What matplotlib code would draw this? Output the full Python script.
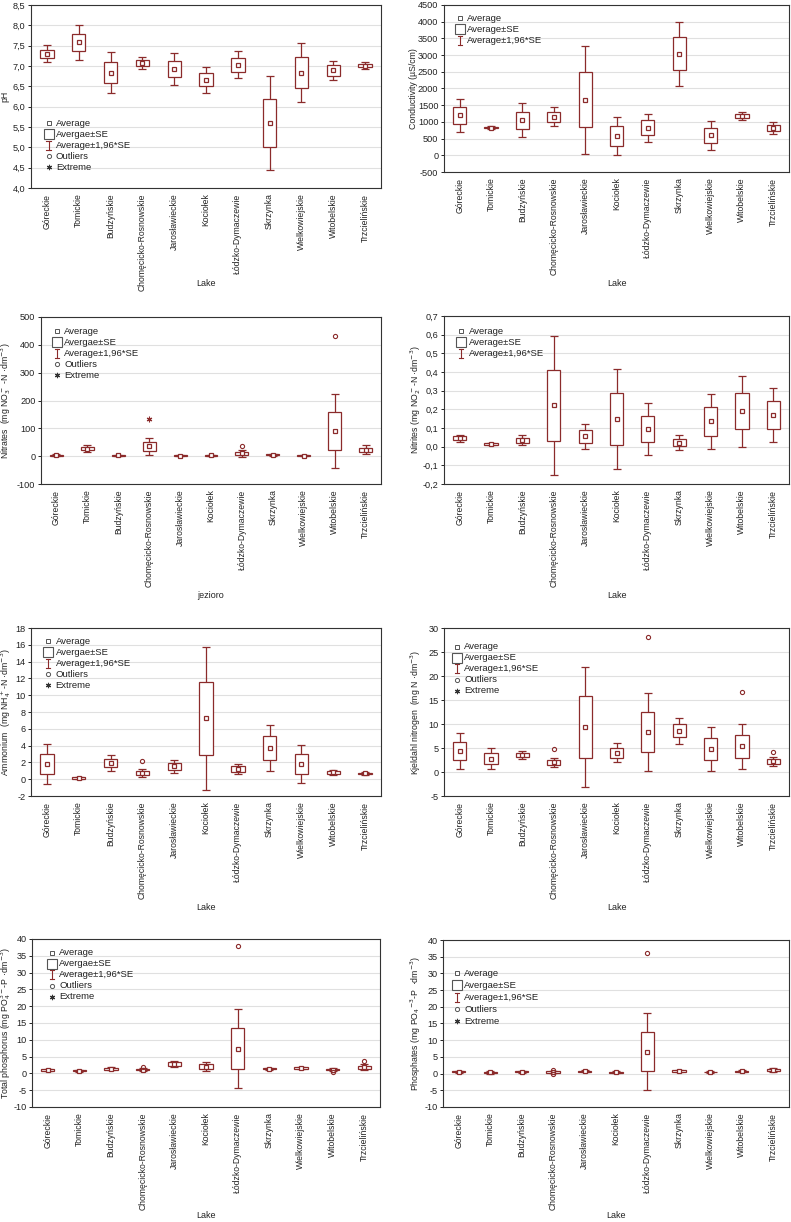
import numpy as np
import matplotlib
matplotlib.use('Agg')
import matplotlib.pyplot as plt
from matplotlib.ticker import MultipleLocator, FuncFormatter

plt.rcParams['font.family'] = ['Liberation Sans', 'DejaVu Sans']

### Data ###########################################

lakes = ['Góreckie', 'Tomickie', 'Budzyńskie', 'Chomęcicko-Rosnowskie',
         'Jarosławieckie', 'Kociołek', 'Łódzko-Dymaczewie', 'Skrzynka',
         'Wielkowiejskie', 'Witobelskie', 'Trzcielińskie']

ph_mean = [7.30, 7.58, 6.84, 7.07, 6.92, 6.66, 7.03, 5.60, 6.84, 6.89, 7.01]
ph_se = [0.105, 0.215, 0.255, 0.075, 0.20, 0.16, 0.17, 0.59, 0.37, 0.125, 0.04]

cond_mean = [1200, 830, 1050, 1160, 1660, 580, 830, 3040, 600, 1180, 820]
cond_se = [250, 20, 260, 150, 825, 290, 215, 490, 220, 60, 88]

nitrates_mean = [3, 27, 3, 35, 2, 3, 10, 5, 2, 89, 23]
nitrates_se = [2, 6, 1.5, 15, 1, 1.5, 6, 1.5, 1, 68, 8]
nitrates_out = [(6, 38), (9, 430)]
nitrates_ext = [(3, 135)]

nitrites_mean = [0.045, 0.014, 0.035, 0.222, 0.055, 0.148, 0.095, 0.022, 0.135, 0.190, 0.170]
nitrites_se = [0.010, 0.003, 0.014, 0.190, 0.035, 0.137, 0.070, 0.020, 0.076, 0.097, 0.074]

ammonium_mean = [1.8, 0.15, 1.9, 0.75, 1.55, 7.25, 1.2, 3.7, 1.8, 0.8, 0.7]
ammonium_se = [1.2, 0.08, 0.5, 0.25, 0.4, 4.35, 0.32, 1.4, 1.15, 0.18, 0.08]
ammonium_out = [(3, 2.2)]

kjeldahl_mean = [4.3, 2.8, 3.5, 2.0, 9.4, 4.0, 8.4, 8.6, 4.8, 5.4, 2.2]
kjeldahl_se = [1.9, 1.15, 0.42, 0.5, 6.4, 1.0, 4.15, 1.4, 2.35, 2.4, 0.45]
kjeldahl_out = [(3, 4.7), (6, 28.2), (9, 16.6), (10, 4.2)]

tp_mean = [1.0, 0.85, 1.4, 1.1, 2.8, 2.0, 7.4, 1.35, 1.6, 1.1, 1.8]
tp_se = [0.2, 0.15, 0.25, 0.2, 0.5, 0.65, 6.0, 0.15, 0.2, 0.2, 0.45]
tp_out = [(3, 1.8), (6, 37.8), (9, 0.5), (10, 3.6)]

phos_mean = [0.6, 0.35, 0.55, 0.45, 0.65, 0.45, 6.6, 0.75, 0.5, 0.65, 1.1]
phos_se = [0.15, 0.25, 0.15, 0.2, 0.15, 0.15, 5.9, 0.2, 0.1, 0.15, 0.3]
phos_out = [(3, 1.0), (3, -0.1), (6, 36.2)]

### Style ##########################################

RED = '#8b2b2b'
GREY = '#555555'
GRID = '#e0e0e0'
TXT = '#222222'
W, H = 791, 1222

fig = plt.figure(figsize=(W / 100, H / 100), dpi=100)


def make_axes(x0, y0, x1, y1):
    return fig.add_axes([x0 / W, 1 - y1 / H, (x1 - x0) / W, (y1 - y0) / H])


def comma(decimals):
    return FuncFormatter(lambda v, p: f'{v:.{decimals}f}'.replace('.', ','))


def draw_legend(ax, box, xf, top, n_items, se_label, spacing=11):
    h = box[3] - box[1]
    w = box[2] - box[0]
    labels = ['Average', se_label, 'Average±1,96*SE', 'Outliers', 'Extreme']
    for i in range(n_items):
        y = top - i * spacing / h
        kw = dict(transform=ax.transAxes, clip_on=False, ls='none', zorder=5)
        if i == 0:
            ax.plot([xf], [y], marker='s', ms=3, mfc='white', mec=GREY, mew=0.7, **kw)
        elif i == 1:
            ax.plot([xf], [y], marker='s', ms=6.5, mfc='white', mec=GREY, mew=0.8, **kw)
        elif i == 2:
            d = 4.5 / h
            c = 2.2 / w
            lkw = dict(color=RED, lw=0.8, transform=ax.transAxes, clip_on=False)
            ax.plot([xf, xf], [y - d, y + d], **lkw)
            ax.plot([xf - c, xf + c], [y + d, y + d], **lkw)
            ax.plot([xf - c, xf + c], [y - d, y - d], **lkw)
        elif i == 3:
            ax.plot([xf], [y], marker='o', ms=3, mfc='none', mec=GREY, mew=0.7, **kw)
        else:
            ax.plot([xf], [y], marker=(6, 2, 0), ms=3.8, mec='#333333', mew=0.8, **kw)
        ax.text(xf + 7.5 / w, y, labels[i], transform=ax.transAxes, fontsize=6.8,
                va='center', ha='left', color=TXT)


def draw_panel(box, mean, se, ylim, step, decimals, ylabel, xlabel,
               ylab_x, xlab_y, legend, outliers=(), extremes=()):
    ax = make_axes(*box)
    w = box[2] - box[0]
    h = box[3] - box[1]
    x = np.arange(len(lakes))
    mean = np.array(mean, dtype=float)
    se = np.array(se, dtype=float)

    # whiskers = mean +- 1.96*SE, box = mean +- SE
    ax.errorbar(x, mean, yerr=1.96 * se, fmt='none', ecolor=RED,
                elinewidth=0.9, capsize=2.6, capthick=0.9, zorder=2)
    ax.bar(x, 2 * se, bottom=mean - se, width=0.42, facecolor='white',
           edgecolor=RED, linewidth=0.9, zorder=3)
    ax.plot(x, mean, ls='none', marker='s', ms=3, mfc='white', mec=RED,
            mew=0.9, zorder=4)
    for i, v in outliers:
        ax.plot(i, v, ls='none', marker='o', ms=3, mfc='none', mec=RED,
                mew=0.8, zorder=4)
    for i, v in extremes:
        ax.plot(i, v, ls='none', marker=(6, 2, 0), ms=4, mec=RED,
                mew=0.8, zorder=4)

    ax.set_xlim(-0.5, len(lakes) - 0.5)
    ax.set_ylim(*ylim)
    ax.yaxis.set_major_locator(MultipleLocator(step))
    ax.yaxis.set_major_formatter(comma(decimals))
    ax.yaxis.grid(True, color=GRID, lw=0.8)
    ax.set_axisbelow(True)
    ax.set_xticks(x)
    ax.set_xticklabels(lakes, rotation=90, fontsize=6.2, color=TXT)
    ax.tick_params(axis='x', length=0, pad=4)
    ax.tick_params(axis='y', length=2, width=0.6, pad=2, labelsize=6.6,
                   labelcolor=TXT)
    for s in ax.spines.values():
        s.set_color('#333333')
        s.set_linewidth(0.8)

    ax.set_ylabel(ylabel, fontsize=6.3, va='center', color=TXT)
    ax.yaxis.set_label_coords((ylab_x - box[0]) / w, 0.5)
    ax.set_xlabel(xlabel, fontsize=6.5, va='center', color=TXT)
    ax.xaxis.set_label_coords(0.5, (box[3] - xlab_y) / h)

    draw_legend(ax, box, *legend)
    return ax


### Panels #########################################

draw_panel((31, 5, 381, 188), ph_mean, ph_se, (4.0, 8.5), 0.5, 1,
           'pH', 'Lake', 5, 284, (0.05, 0.355, 5, 'Avergae±SE'))

draw_panel((444, 5, 789, 172), cond_mean, cond_se, (-500, 4500), 500, 0,
           'Conductivity (µS/cm)', 'Lake', 414, 284,
           (0.046, 0.92, 3, 'Average±SE'))

draw_panel((41, 317, 381, 484), nitrates_mean, nitrates_se, (-100, 500), 100, 0,
           r'Nitrates  (mg NO$_3^-$ -N ·dm$^{-3}$)', 'jezioro', 6, 595,
           (0.047, 0.916, 5, 'Avergae±SE'),
           outliers=nitrates_out, extremes=nitrates_ext)

draw_panel((444, 316, 789, 484), nitrites_mean, nitrites_se, (-0.2, 0.7), 0.1, 1,
           r'Nitrites (mg NO$_2^-$-N ·dm$^{-3}$)', 'Lake', 416, 595,
           (0.05, 0.91, 3, 'Average±SE'))

draw_panel((31, 628, 381, 796), ammonium_mean, ammonium_se, (-2, 18), 2, 0,
           r'Ammonium  (mg NH$_4^+$-N ·dm$^{-3}$)', 'Lake', 6, 907,
           (0.049, 0.92, 5, 'Avergae±SE'), outliers=ammonium_out)

draw_panel((444, 628, 789, 796), kjeldahl_mean, kjeldahl_se, (-5, 30), 5, 0,
           r'Kjeldahl nitrogen  (mg N ·dm$^{-3}$)', 'Lake', 416, 907,
           (0.037, 0.887, 5, 'Avergae±SE'), outliers=kjeldahl_out)

draw_panel((32, 939, 380, 1107), tp_mean, tp_se, (-10, 40), 5, 0,
           r'Total phosphorus (mg PO$_4^{3-}$-P ·dm$^{-3}$)', 'Lake', 6, 1216,
           (0.057, 0.917, 5, 'Avergae±SE'), outliers=tp_out)

draw_panel((443, 940, 789, 1107), phos_mean, phos_se, (-10, 40), 5, 0,
           r'Phosphates (mg PO$_4$$^{-3}$-P  ·dm$^{-3}$)', 'Lake', 416, 1216,
           (0.04, 0.80, 5, 'Avergae±SE', 12), outliers=phos_out)

fig.savefig('out.png', dpi=100)
plt.close()
